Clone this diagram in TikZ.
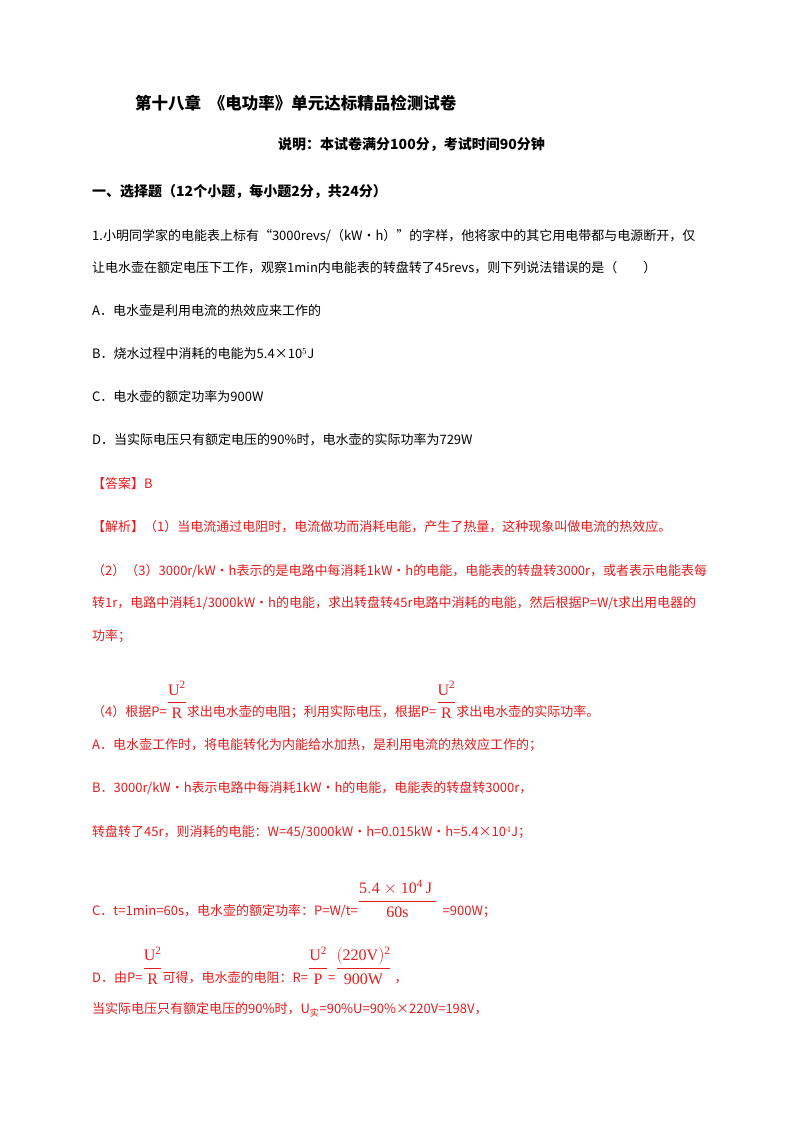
\documentclass[tikz,border=0pt]{standalone}
\usepackage{amsmath}
\usepackage{fontspec}
\setmainfont{Liberation Serif}
\newfontfamily\cjk{Noto Sans CJK SC}
\definecolor{ans}{RGB}{228,28,30}
\newcommand{\fr}[2]{{\fontsize{16}{18}\selectfont\raisebox{0.6em}{$\dfrac{\mathrm{#1}}{\mathrm{#2}}$}}}
\begin{document}
\begin{tikzpicture}[x=1pt,y=-1pt,
  tx/.style={anchor=west,inner sep=0pt,font=\cjk\fontsize{13}{15}\selectfont},
  bd/.style={tx,font=\cjk\bfseries\fontsize{14}{16}\selectfont},
  rd/.style={tx,text=ans}]
\useasboundingbox[fill=white] (0,0) rectangle (800,1132);
\node[bd,font=\cjk\bfseries\fontsize{16.5}{18}\selectfont] (t) at (135,103) {第十八章\ \ 《电功率》单元达标精品检测试卷};
\node[bd] (s) at (278,145) {说明：本试卷满分100分，考试时间90分钟};
\node[bd] (h) at (92,192) {一、选择题（12个小题，每小题2分，共24分）};
\node[tx] (q1) at (92,236) {1.小明同学家的电能表上标有“3000revs/（kW•h）”的字样，他将家中的其它用电带都与电源断开，仅};
\node[tx] (q2) at (92,268) {让电水壶在额定电压下工作，观察1min内电能表的转盘转了45revs，则下列说法错误的是（\qquad）};
\node[tx] (qa) at (92,311) {A．电水壶是利用电流的热效应来工作的};
\node[tx] (qb) at (92,354) {B．烧水过程中消耗的电能为5.4×10$^5$J};
\node[tx] (qc) at (92,397) {C．电水壶的额定功率为900W};
\node[tx] (qd) at (92,440) {D．当实际电压只有额定电压的90\%时，电水壶的实际功率为729W};
\node[rd] (an) at (92,484) {【答案】B};
\node[rd] (j1) at (92,527) {【解析】（1）当电流通过电阻时，电流做功而消耗电能，产生了热量，这种现象叫做电流的热效应。};
\node[rd] (j2) at (92,571) {（2）（3）3000r/kW•h表示的是电路中每消耗1kW•h的电能，电能表的转盘转3000r，或者表示电能表每};
\node[rd] (j3) at (92,603) {转1r，电路中消耗1/3000kW•h的电能，求出转盘转45r电路中消耗的电能，然后根据P=W/t求出用电器的};
\node[rd] (j4) at (92,636) {功率；};
\node[rd] (j5) at (92,700) {（4）根据P=\fr{U^2}{R}求出电水壶的电阻；利用实际电压，根据P=\fr{U^2}{R}求出电水壶的实际功率。};
\node[rd] (ra) at (92,745) {A．电水壶工作时，将电能转化为内能给水加热，是利用电流的热效应工作的；};
\node[rd] (rb) at (92,788) {B．3000r/kW•h表示电路中每消耗1kW•h的电能，电能表的转盘转3000r，};
\node[rd] (rb2) at (92,832) {转盘转了45r，则消耗的电能：W=45/3000kW•h=0.015kW•h=5.4×10$^4$J；};
\node[rd] (rc) at (92,899) {C．t=1min=60s，电水壶的额定功率：P=W/t=\fr{5.4\times10^4\,J\ }{60s}\ \ =900W；};
\node[rd] (rd1) at (92,966) {D．由P=\fr{U^2}{R}可得，电水壶的电阻：R=\fr{U^2}{P}=\fr{(220V)^2}{900W}\ ，};
\node[rd] (rl) at (92,1010) {当实际电压只有额定电压的90\%时，U$_{\text{\cjk 实}}$=90\%U=90\%×220V=198V，};
\end{tikzpicture}
\end{document}
